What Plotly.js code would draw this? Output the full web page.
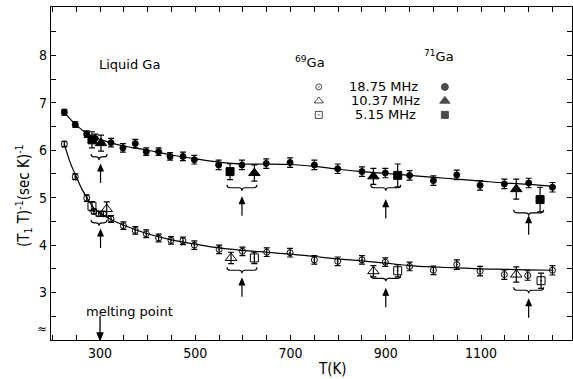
<!DOCTYPE html>
<html><head><meta charset="utf-8">
<script src="https://cdn.plot.ly/plotly-3.0.1.min.js"></script>
<style>html,body{margin:0;padding:0;background:#fff}#chart{width:573px;height:379px}</style>
</head><body><div id="chart"></div>
<script>
// 71Ga (filled) series
const t71Circle = [225,248,272,290,323,348,374,397,423,447,474,498,549,598,649,699,750,799,850,899,950,1000,1049,1098,1149,1200,1250];
const v71Circle = [6.80,6.54,6.34,6.25,6.16,6.05,6.14,5.97,5.97,5.87,5.87,5.80,5.69,5.69,5.72,5.74,5.69,5.61,5.55,5.52,5.47,5.36,5.48,5.26,5.29,5.31,5.22];
const e71Circle = [0.06,0.06,0.07,0.09,0.09,0.09,0.09,0.08,0.08,0.08,0.09,0.09,0.1,0.1,0.1,0.1,0.1,0.1,0.1,0.1,0.1,0.1,0.1,0.1,0.1,0.1,0.1];
const t71Tri = [302,624,874,1174];
const v71Tri = [6.15,5.52,5.45,5.18];
const e71Tri = [0.17,0.17,0.17,0.21];
const t71Sq = [283,573,925,1224];
const v71Sq = [6.22,5.55,5.47,4.96];
const e71Sq = [0.17,0.17,0.24,0.26];
// 69Ga (open) series
const t69Circle = [225,248,272,287,297,307,323,349,374,397,423,449,474,498,550,599,650,699,750,799,850,899,950,1000,1049,1098,1149,1198,1250];
const v69Circle = [6.13,5.44,4.99,4.71,4.66,4.66,4.55,4.41,4.31,4.24,4.15,4.10,4.09,4.00,3.91,3.87,3.85,3.84,3.69,3.66,3.69,3.64,3.55,3.47,3.59,3.45,3.38,3.36,3.47];
const e69Circle = [0.06,0.06,0.07,0.05,0.05,0.05,0.07,0.08,0.08,0.08,0.08,0.08,0.08,0.09,0.09,0.09,0.09,0.09,0.09,0.09,0.09,0.09,0.09,0.09,0.1,0.1,0.1,0.1,0.1];
const t69Tri = [314,575,874,1174];
const v69Tri = [4.76,3.73,3.45,3.38];
const e69Tri = [0.15,0.12,0.12,0.16];
const t69Sq = [283,624,925,1226];
const v69Sq = [4.82,3.73,3.46,3.25];
const e69Sq = [0.1,0.12,0.13,0.16];
// drawn curves
const fitT71 = [225,250,275,300,325,350,400,450,500,550,600,650,700,750,800,850,900,950,1000,1050,1100,1150,1200,1250];
const fitV71 = [6.80,6.53,6.34,6.23,6.15,6.09,6.00,5.90,5.82,5.75,5.71,5.71,5.70,5.66,5.60,5.55,5.51,5.47,5.43,5.39,5.35,5.31,5.28,5.24];
const fitT69 = [225,237,250,262,275,287,300,325,350,400,450,500,550,600,650,700,750,800,850,900,950,1000,1050,1100,1150,1200,1250];
const fitV69 = [6.13,5.75,5.44,5.18,4.96,4.78,4.67,4.53,4.42,4.24,4.11,4.02,3.94,3.89,3.85,3.81,3.76,3.71,3.67,3.62,3.57,3.54,3.52,3.50,3.49,3.48,3.47];
// ticks
const xTickVals = [300,500,700,900,1100];
const xTickText = ['300','500','700','900','1100'];
const yTickVals = [3,4,5,6,7,8];
const yTickText = ['3','4','5','6','7','8'];
// legend
const legendLabels = ['18.75 MHz','10.37 MHz','5.15 MHz'];
const legendOpen = ['circle-open-dot','triangle-up-open','square-open-dot'];
const legendFilled = ['circle','triangle-up','square'];

const FONT = 'Liberation Sans Narrow, DejaVu Sans Condensed, Arial Narrow, sans-serif';
const TFONT = 'DejaVu Sans, Liberation Sans, sans-serif';
const K = '#000';

function pts(x,y,e,sym,size){
  return {x:x,y:y,type:'scatter',mode:'markers',
    marker:{symbol:sym,size:size,color:K,line:{color:K,width:1}},
    error_y:{type:'data',array:e,visible:true,color:K,thickness:1.2,width:3},
    showlegend:false,hoverinfo:'skip'};
}
const traces = [
  {x:fitT71,y:fitV71,type:'scatter',mode:'lines',line:{color:K,width:1.2,shape:'spline',smoothing:1},showlegend:false},
  {x:fitT69,y:fitV69,type:'scatter',mode:'lines',line:{color:K,width:1.2,shape:'spline',smoothing:1},showlegend:false},
  pts(t71Circle,v71Circle,e71Circle,'circle',6),
  pts(t71Tri,v71Tri,e71Tri,'triangle-up',10),
  pts(t71Sq,v71Sq,e71Sq,'square',8),
  pts(t69Circle,v69Circle,e69Circle,'circle-open-dot',6),
  pts(t69Tri,v69Tri,e69Tri,'triangle-up-open',10),
  pts(t69Sq,v69Sq,e69Sq,'square-open-dot',8),
];
// legend markers on overlay axes (0..1)
const legY = [0.760,0.718,0.676];
traces.push({x:[0.514,0.514,0.514],y:legY,xaxis:'x2',yaxis:'y2',type:'scatter',mode:'markers',
  marker:{symbol:legendOpen,size:[6,8,7],color:K,line:{color:K,width:1}},showlegend:false});
traces.push({x:[0.756,0.756,0.756],y:legY,xaxis:'x2',yaxis:'y2',type:'scatter',mode:'markers',
  marker:{symbol:legendFilled,size:[7,9,7],color:K,line:{color:K,width:1}},showlegend:false});

const annotations = [
  {xref:'paper',yref:'paper',x:0.088,y:0.827,xanchor:'left',yanchor:'middle',text:'Liquid Ga',showarrow:false,font:{family:TFONT,size:13,color:K}},
  {xref:'paper',yref:'paper',x:0.464,y:0.835,xanchor:'left',yanchor:'middle',text:'<sup>69</sup>Ga',showarrow:false,font:{family:TFONT,size:13,color:K}},
  {xref:'paper',yref:'paper',x:0.713,y:0.853,xanchor:'left',yanchor:'middle',text:'<sup>71</sup>Ga',showarrow:false,font:{family:TFONT,size:13,color:K}},
  {xref:'paper',yref:'paper',x:0.064,y:0.085,xanchor:'left',yanchor:'middle',text:'melting point',showarrow:false,font:{family:TFONT,size:13,color:K}},
  {xref:'paper',yref:'paper',x:0.540,y:-0.087,xanchor:'center',yanchor:'middle',text:'T(K)',showarrow:false,font:{family:FONT,size:15,color:K}},
  {xref:'paper',yref:'paper',x:-0.054,y:0.435,xanchor:'center',yanchor:'middle',textangle:-90,text:'(T<sub>1</sub> T)<sup>-1</sup>(sec K)<sup>-1</sup>',showarrow:false,font:{family:FONT,size:15,color:K}},
  {xref:'paper',yref:'paper',x:-0.004,y:0.033,xanchor:'right',yanchor:'middle',text:'≈',showarrow:false,font:{family:TFONT,size:12,color:K}},
];
legendLabels.forEach((s,i)=>{
  annotations.push({xref:'paper',yref:'paper',x:[0.568,0.572,0.580][i],y:legY[i],xanchor:'left',yanchor:'middle',text:s,showarrow:false,font:{family:TFONT,size:13,color:K}});
});
// upward arrows: [T, head value]
const arrowHeads = [[301,5.69],[301,4.32],[598,5.0],[598,3.29],[900,4.94],[900,3.07],[1200,4.60],[1200,2.85]];
// braces: [T, value, half width px]
const braces = [[298,5.86,8],[298,4.47,8],[598,5.21,15],[598,3.47,15],[900,5.21,15],[900,3.30,15],[1200,4.68,15],[1200,3.05,15]];
const shapes = braces.map(b=>{
  const w=b[2];
  return {type:'path',xref:'x',yref:'y',xsizemode:'pixel',ysizemode:'pixel',xanchor:b[0],yanchor:b[1],
    path:`M ${-w} 3 Q ${-w} 0 ${-w+3} 0 L -3 0 Q 0 0 0 -3 Q 0 0 3 0 L ${w-3} 0 Q ${w} 0 ${w} 3`,
    line:{color:K,width:1.1}};
});
arrowHeads.forEach(a=>{
  shapes.push({type:'path',xref:'x',yref:'y',xsizemode:'pixel',ysizemode:'pixel',xanchor:a[0],yanchor:a[1],
    path:'M 0 -18 L 0 -5 M -2.6 -6 L 0 0 L 2.6 -6 Z',fillcolor:K,line:{color:K,width:1.2}});
});
// melting point arrow (head down at the axis)
shapes.push({type:'path',xref:'x',yref:'y',xsizemode:'pixel',ysizemode:'pixel',xanchor:300,yanchor:2.0,
  path:'M 0 24 L 0 6 M -2.8 7 L 0 0 L 2.8 7 Z',fillcolor:K,line:{color:K,width:1.3}});

const layout = {
  width:573,height:379,
  margin:{l:51,r:1,t:7,b:39,pad:0},
  paper_bgcolor:'#fff',plot_bgcolor:'#fff',
  showlegend:false,
  xaxis:{range:[197,1291],tickmode:'array',tickvals:xTickVals,ticktext:xTickText,ticks:'inside',ticklen:5,tickwidth:1,tickcolor:K,
    minor:{tick0:200,dtick:50,ticks:'inside',ticklen:5,tickwidth:1,tickcolor:K,showgrid:false},
    showline:true,linecolor:K,linewidth:1.2,mirror:'ticks',showgrid:false,zeroline:false,
    tickfont:{family:FONT,size:14,color:K}},
  yaxis:{range:[2.0,9.02],tickmode:'array',tickvals:yTickVals,ticktext:yTickText,ticks:'inside',ticklen:5,tickwidth:1,tickcolor:K,
    minor:{tick0:2,dtick:0.5,ticks:'inside',ticklen:5,tickwidth:1,tickcolor:K,showgrid:false},
    showline:true,linecolor:K,linewidth:1.2,mirror:'ticks',showgrid:false,zeroline:false,
    tickfont:{family:FONT,size:14,color:K}},
  xaxis2:{overlaying:'x',range:[0,1],visible:false,fixedrange:true},
  yaxis2:{overlaying:'y',range:[0,1],visible:false,fixedrange:true},
  annotations:annotations,
  shapes:shapes
};
Plotly.newPlot('chart',traces,layout,{staticPlot:true,displayModeBar:false});
</script></body></html>
